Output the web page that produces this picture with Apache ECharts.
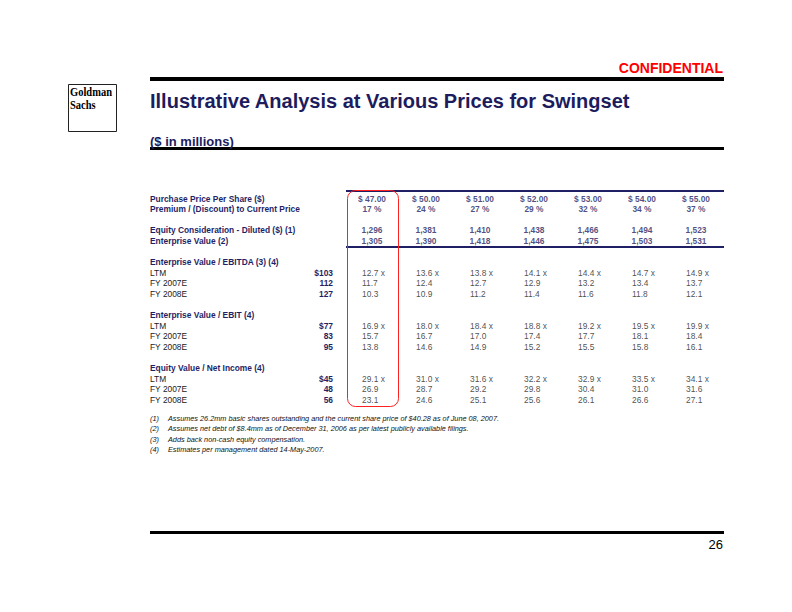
<!DOCTYPE html>
<html>
<head>
<meta charset="utf-8">
<script src="https://cdn.jsdelivr.net/npm/echarts@6/dist/echarts.min.js"></script>
<style>
  html, body { margin: 0; padding: 0; background: #fff; }
  #chart { width: 792px; height: 612px; }
</style>
</head>
<body>
<div id="chart"></div>
<script>
// ---------------- data ----------------
const prices = [47, 50, 51, 52, 53, 54, 55];
const premiums = [17, 24, 27, 29, 32, 34, 37];
const equityConsideration = [1296, 1381, 1410, 1438, 1466, 1494, 1523];
const enterpriseValue = [1305, 1390, 1418, 1446, 1475, 1503, 1531];

const evEbitdaLTM = [12.7, 13.6, 13.8, 14.1, 14.4, 14.7, 14.9];
const evEbitda07 = [11.7, 12.4, 12.7, 12.9, 13.2, 13.4, 13.7];
const evEbitda08 = [10.3, 10.9, 11.2, 11.4, 11.6, 11.8, 12.1];

const evEbitLTM = [16.9, 18.0, 18.4, 18.8, 19.2, 19.5, 19.9];
const evEbit07 = [15.7, 16.7, 17.0, 17.4, 17.7, 18.1, 18.4];
const evEbit08 = [13.8, 14.6, 14.9, 15.2, 15.5, 15.8, 16.1];

const peLTM = [29.1, 31.0, 31.6, 32.2, 32.9, 33.5, 34.1];
const pe07 = [26.9, 28.7, 29.2, 29.8, 30.4, 31.0, 31.6];
const pe08 = [23.1, 24.6, 25.1, 25.6, 26.1, 26.6, 27.1];

const ebitdaMetric = ['$103', '112', '127'];
const ebitMetric = ['$77', '83', '95'];
const netIncomeMetric = ['$45', '48', '56'];

// row labels (blank rows are spacers); h = section/header style
const rowLabels = [
  ['Purchase Price Per Share ($)', 'h'],
  ['Premium / (Discount) to Current Price', 'h'],
  ['', 'h'],
  ['Equity Consideration - Diluted ($) (1)', 'h'],
  ['Enterprise Value (2)', 'h'],
  ['', 'h'],
  ['Enterprise Value / EBITDA (3) (4)', 'h'],
  ['LTM', 's'], ['FY 2007E', 's'], ['FY 2008E', 's'],
  ['', 'h'],
  ['Enterprise Value / EBIT (4)', 'h'],
  ['LTM', 's'], ['FY 2007E', 's'], ['FY 2008E', 's'],
  ['', 'h'],
  ['Equity Value / Net Income (4)', 'h'],
  ['LTM', 's'], ['FY 2007E', 's'], ['FY 2008E', 's']
];
const rowMetrics = ['', '', '', '', '', '', '',
  ebitdaMetric[0], ebitdaMetric[1], ebitdaMetric[2], '', '',
  ebitMetric[0], ebitMetric[1], ebitMetric[2], '', '',
  netIncomeMetric[0], netIncomeMetric[1], netIncomeMetric[2]];

const footnoteNums = ['(1)', '(2)', '(3)', '(4)'];
const footnotes = [
  'Assumes 26.2mm basic shares outstanding and the current share price of $40.28 as of June 08, 2007.',
  'Assumes net debt of $8.4mm as of December 31, 2006 as per latest publicly available filings.',
  'Adds back non-cash equity compensation.',
  'Estimates per management dated 14-May-2007.'
];

// ---------------- build cells ----------------
const colNames = prices.map(p => '$ ' + p.toFixed(2));
const fmtInt = v => v.toLocaleString('en-US');
const headerCells = [];
const multipleCells = [];
prices.forEach((p, i) => {
  headerCells.push([i, 0, '$ ' + p.toFixed(2)]);
  headerCells.push([i, 1, premiums[i] + ' %']);
  headerCells.push([i, 3, fmtInt(equityConsideration[i])]);
  headerCells.push([i, 4, fmtInt(enterpriseValue[i])]);
});
function addBlock(startRow, ltm, y07, y08) {
  prices.forEach((p, i) => {
    multipleCells.push([i, startRow, ltm[i].toFixed(1) + ' x']);
    multipleCells.push([i, startRow + 1, y07[i].toFixed(1)]);
    multipleCells.push([i, startRow + 2, y08[i].toFixed(1)]);
  });
}
addBlock(7, evEbitdaLTM, evEbitda07, evEbitda08);
addBlock(12, evEbitLTM, evEbit07, evEbit08);
addBlock(17, peLTM, pe07, pe08);

// ---------------- chart ----------------
const NAVY = '#1f1f66';
const FONT = '"Liberation Sans", Arial, Helvetica, sans-serif';
const FS = 8.4;

const chart = echarts.init(document.getElementById('chart'), null, { renderer: 'svg' });

const footGraphics = [];
footnotes.forEach((t, i) => {
  const y = 419 + i * 10.3;
  footGraphics.push({ type: 'text', left: 150, top: y - 4,
    style: { text: footnoteNums[i], font: 'italic 7.3px ' + FONT, fill: '#111' } });
  footGraphics.push({ type: 'text', left: 168, top: y - 4,
    style: { text: t, font: 'italic 7.3px ' + FONT, fill: '#111' } });
});

const yAxisBase = {
  type: 'value', inverse: true, min: 0, max: 19, interval: 1,
  axisLine: { show: false }, axisTick: { show: false }, splitLine: { show: false }
};

chart.setOption({
  animation: false,
  backgroundColor: '#fff',
  textStyle: { fontFamily: FONT },
  title: [
    { text: 'CONFIDENTIAL', right: 69, top: 61, padding: 0,
      textStyle: { color: '#ff0000', fontSize: 14, fontWeight: 'bold', fontFamily: FONT } },
    { text: 'Illustrative Analysis at Various Prices for Swingset', left: 150, top: 91, padding: 0,
      textStyle: { color: '#1c1c5e', fontSize: 20, fontWeight: 'bold', fontFamily: FONT } },
    { text: '($ in millions)', left: 150, top: 134.5, padding: 0,
      textStyle: { color: '#1c1c5e', fontSize: 13, fontWeight: 'bold', fontFamily: FONT } },
    { text: '26', right: 69, top: 537.5, padding: 0,
      textStyle: { color: '#000', fontSize: 13, fontWeight: 'normal', fontFamily: FONT } }
  ],
  grid: { left: 345, right: 69, top: 198.5, bottom: 212 },
  xAxis: { type: 'category', data: colNames, show: false },
  yAxis: [
    Object.assign({}, yAxisBase, {
      axisLabel: {
        margin: 195, align: 'left', fontSize: FS, fontFamily: FONT,
        formatter: v => {
          const r = rowLabels[v];
          if (!r || !r[0]) return '';
          return r[1] === 'h' ? '{h|' + r[0] + '}' : '{s|' + r[0] + '}';
        },
        rich: {
          h: { fontSize: FS, fontWeight: 'bold', color: NAVY, fontFamily: FONT },
          s: { fontSize: FS, fontWeight: 'normal', color: '#222', fontFamily: FONT }
        }
      }
    }),
    Object.assign({}, yAxisBase, {
      position: 'left',
      axisLabel: {
        margin: 12, align: 'right', fontSize: FS, fontWeight: 'bold', color: NAVY, fontFamily: FONT,
        formatter: v => rowMetrics[v] || ''
      }
    })
  ],
  series: [
    {
      type: 'scatter', name: 'headers', data: headerCells, symbolSize: 1,
      itemStyle: { color: 'rgba(0,0,0,0)' },
      label: { show: true, position: 'inside', formatter: p => p.data[2],
        fontSize: FS, fontWeight: 'bold', color: NAVY, fontFamily: FONT }
    },
    {
      type: 'scatter', name: 'multiples', data: multipleCells, symbolSize: 1,
      itemStyle: { color: 'rgba(0,0,0,0)' },
      label: { show: true, position: 'inside', align: 'left', offset: [-10, 0],
        formatter: p => p.data[2],
        fontSize: FS, fontWeight: 'normal', color: '#222', fontFamily: FONT }
    }
  ],
  graphic: [
    { type: 'rect', shape: { x: 150, y: 77, width: 574, height: 4 }, style: { fill: '#000' } },
    { type: 'rect', shape: { x: 150, y: 147, width: 574, height: 3 }, style: { fill: '#000' } },
    { type: 'rect', shape: { x: 150, y: 531, width: 574, height: 3 }, style: { fill: '#000' } },
    { type: 'rect', shape: { x: 346, y: 190, width: 378, height: 2 }, style: { fill: NAVY } },
    { type: 'rect', shape: { x: 346, y: 246, width: 378, height: 2 }, style: { fill: NAVY } },
    { type: 'rect', shape: { x: 347.5, y: 190.5, width: 51, height: 216, r: 8 },
      style: { fill: 'none', stroke: '#ff2020', lineWidth: 1 } },
    // logo
    { type: 'rect', shape: { x: 68.5, y: 84.5, width: 48, height: 47 },
      style: { fill: '#fff', stroke: '#222', lineWidth: 1 } },
    { type: 'group', x: 70, y: 0, scaleX: 0.84, children: [
      { type: 'text', x: 0, y: 85.5,
        style: { text: 'Goldman', font: 'bold 12.5px "Liberation Serif", serif', fill: '#000', verticalAlign: 'top' } },
      { type: 'text', x: 0, y: 98.5,
        style: { text: 'Sachs', font: 'bold 12.5px "Liberation Serif", serif', fill: '#000', verticalAlign: 'top' } }
    ] }
  ].concat(footGraphics)
});
</script>
</body>
</html>
